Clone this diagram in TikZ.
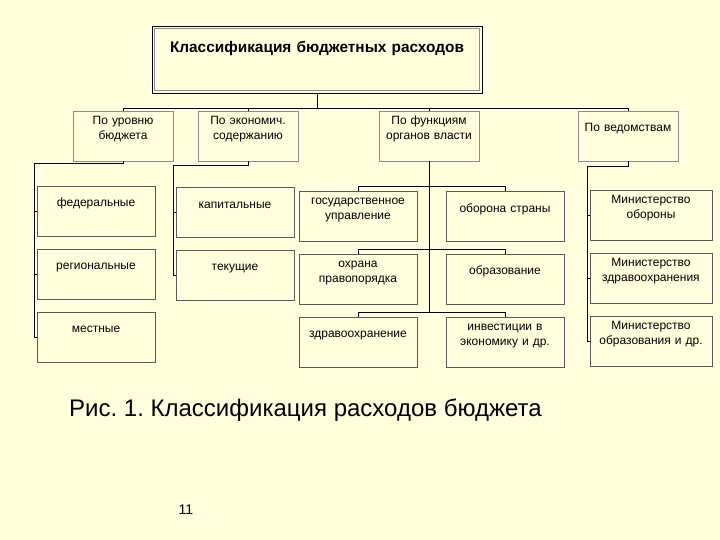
\documentclass[tikz,border=0pt]{standalone}
\usepackage{fontspec}
\setmainfont{Liberation Sans}
\usetikzlibrary{positioning, calc}
\definecolor{slide}{HTML}{FFFFDD}
\definecolor{edge}{HTML}{8C8C8C}
\frenchspacing

\begin{document}
\begin{tikzpicture}[
    x=1pt, y=-1pt,
    node distance=12.5pt,
    every node/.style={align=center, inner sep=0pt, font=\fontsize{12}{15}\selectfont},
    cat/.style={draw=edge, text width=100pt},
    leaf/.style={draw=black!65, text width=118pt},
    one/.style={text height=21pt, text depth=29pt},
    two/.style={text height=14pt, text depth=36pt},
    line/.style={draw=black, line width=0.6pt}
]
\fill[slide] (0,0) rectangle (720,540);

% Title
\node (top) [draw=black, line width=0.8pt, text width=330pt, text height=27pt, text depth=40pt,
    font=\fontsize{15.4}{18}\selectfont\bfseries] at (317,59.5) {Классификация бюджетных расходов};
\draw[edge] ([shift={(3,3)}]top.north west) rectangle ([shift={(-3,-3)}]top.south east);

% Row 1
\node (cat1) [cat, two] at (123,136) {По уровню\\ бюджета};
\node (cat2) [cat, two] at (248,136) {По экономич.\\ содержанию};
\node (cat3) [cat, two] at (429,136) {По функциям\\ органов власти};
\node (cat4) [cat, one] at (628,136) {По ведомствам};

\coordinate (bus) at (317,108);
\draw[line] (top.south) -- (bus);
\draw[line] (cat1.north |- bus) -- (cat4.north |- bus);
\foreach \c in {cat1,cat2,cat3,cat4}
    \draw[line] (\c.north |- bus) -- (\c.north);

% Level of budget
\node (fed) [leaf, one] at (96,211) {федеральные};
\node (reg) [leaf, one, below=of fed] {региональные};
\node (loc) [leaf, one, below=of reg] {местные};

\coordinate (sp1) at (34,163);
\draw[line] (cat1.south) |- (sp1) -- (sp1 |- loc.west);
\foreach \n in {fed,reg,loc}
    \draw[line] (sp1 |- \n.west) -- (\n.west);

% Economic content
\node (cap) [leaf, one] at (235,212) {капитальные};
\node (cur) [leaf, one, below=of cap] {текущие};

\coordinate (sp2) at (173,165);
\draw[line] (cat2.south) |- (sp2) -- (sp2 |- cur.west);
\foreach \n in {cap,cur}
    \draw[line] (sp2 |- \n.west) -- (\n.west);

% Functions of authorities
\node (gov) [leaf, two] at (358,216) {государственное\\ управление};
\node (law) [leaf, two, below=of gov] {охрана\\ правопорядка};
\node (hlth) [leaf, one, below=of law] {здравоохранение};
\node (def) [leaf, one] at (505,216) {оборона страны};
\node (edu) [leaf, one, below=of def] {образование};
\node (inv) [leaf, two, below=of edu] {инвестиции в\\ экономику и др.};

\draw[line] (cat3.south) -- ($(cat3.south |- hlth.north)+(0,-4)$);
\foreach \l/\r in {gov/def,law/edu,hlth/inv}
    \draw[line] (\l.north) -- ++(0,-4) -| (\r.north);

% Departments
\node (mdef) [leaf, two, text width=122pt] at (651,215) {Министерство\\ обороны};
\node (mhlth) [leaf, two, text width=122pt, below=of mdef] {Министерство\\ здравоохранения};
\node (medu) [leaf, two, text width=122pt, below=of mhlth] {Министерство\\ образования и др.};

\coordinate (sp4) at (587,166);
\draw[line] (cat4.south) |- (sp4) -- (sp4 |- medu.west);
\foreach \n in {mdef,mhlth,medu}
    \draw[line] (sp4 |- \n.west) -- (\n.west);

% Caption and page number
\node (fig) [anchor=base west, font=\fontsize{24}{28}\selectfont] at (69,416)
    {Рис. 1. Классификация расходов бюджета};
\node (page) [anchor=base, font=\fontsize{14}{16}\selectfont] at (186,514) {11};
\end{tikzpicture}
\end{document}
